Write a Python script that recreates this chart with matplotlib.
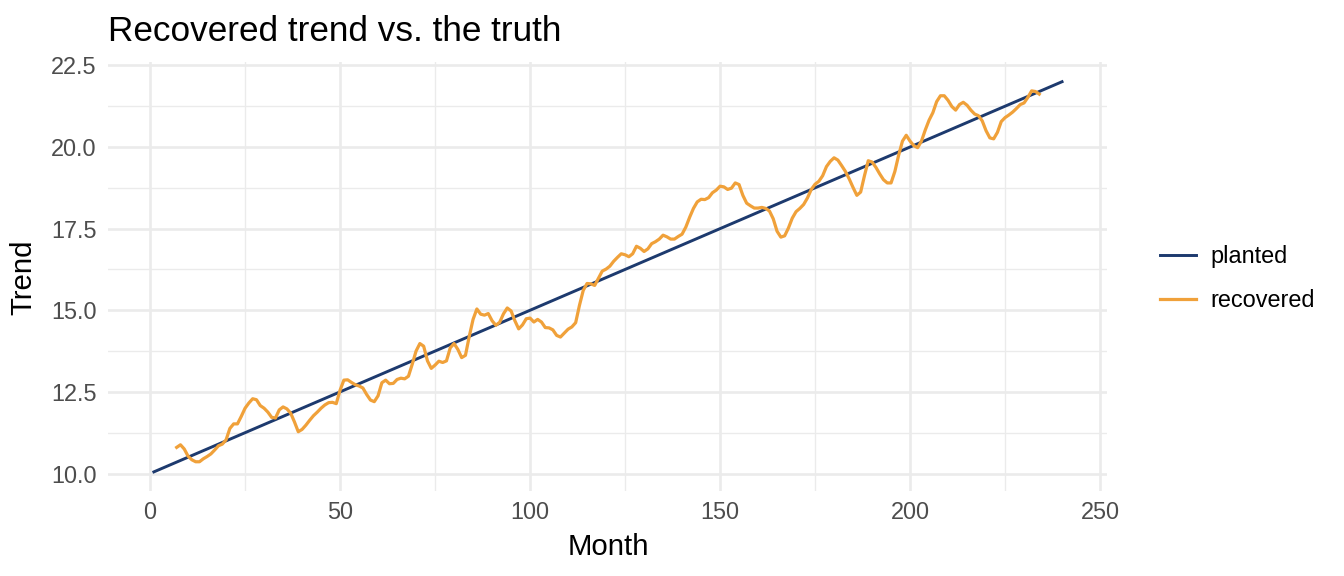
import matplotlib
matplotlib.use("Agg")
from matplotlib import pyplot as plt
from matplotlib.ticker import MultipleLocator

plt.rcParams['font.family'] = ['Liberation Sans', 'DejaVu Sans']

# planted trend: straight line, end points only
planted_month = [1, 240]
planted_trend = [10.05, 22.0]

# recovered trend (centred moving average), months 7..234
recovered_month = list(range(7, 235))
recovered_trend = [
    10.80, 10.88, 10.75, 10.53, 10.42, 10.36, 10.36, 10.45, 10.52, 10.60,
    10.72, 10.85, 10.90, 11.03, 11.38, 11.52, 11.52, 11.75, 12.00, 12.16,
    12.29, 12.26, 12.08, 12.00, 11.88, 11.72, 11.70, 11.95, 12.04, 11.98,
    11.85, 11.58, 11.28, 11.35, 11.48, 11.63, 11.77, 11.88, 12.00, 12.10,
    12.17, 12.18, 12.14, 12.55, 12.86, 12.87, 12.79, 12.72, 12.68, 12.62,
    12.42, 12.25, 12.20, 12.38, 12.78, 12.86, 12.75, 12.76, 12.88, 12.92,
    12.90, 12.98, 13.35, 13.75, 13.98, 13.90, 13.45, 13.22, 13.32, 13.44,
    13.40, 13.45, 13.85, 13.98, 13.80, 13.55, 13.62, 14.20, 14.72, 15.04,
    14.88, 14.85, 14.90, 14.68, 14.54, 14.63, 14.89, 15.07, 14.98, 14.68,
    14.43, 14.55, 14.74, 14.76, 14.64, 14.72, 14.64, 14.47, 14.46, 14.40,
    14.23, 14.18, 14.30, 14.42, 14.49, 14.62, 15.15, 15.61, 15.82, 15.81,
    15.76, 15.98, 16.20, 16.26, 16.35, 16.50, 16.62, 16.73, 16.70, 16.64,
    16.73, 16.96, 16.90, 16.80, 16.88, 17.04, 17.10, 17.18, 17.30, 17.25,
    17.18, 17.18, 17.26, 17.33, 17.55, 17.85, 18.12, 18.32, 18.40, 18.39,
    18.45, 18.60, 18.68, 18.80, 18.78, 18.70, 18.74, 18.90, 18.85, 18.52,
    18.28, 18.20, 18.13, 18.13, 18.15, 18.12, 18.04, 17.80, 17.42, 17.24,
    17.28, 17.52, 17.82, 18.02, 18.12, 18.24, 18.44, 18.70, 18.86, 18.95,
    19.12, 19.40, 19.56, 19.67, 19.60, 19.43, 19.25, 19.02, 18.76, 18.52,
    18.62, 19.12, 19.58, 19.54, 19.38, 19.18, 19.00, 18.90, 18.90, 19.25,
    19.75, 20.18, 20.36, 20.18, 20.04, 19.98, 20.18, 20.52, 20.82, 21.05,
    21.39, 21.57, 21.57, 21.43, 21.24, 21.13, 21.30, 21.37, 21.28, 21.13,
    21.01, 20.96, 20.80, 20.50, 20.28, 20.25, 20.45, 20.78, 20.90, 20.98,
    21.07, 21.18, 21.30, 21.35, 21.52, 21.72, 21.70, 21.62,
]

fig = plt.figure(figsize=(7, 3), dpi=192)
ax = fig.add_axes([0.0807, 0.1469, 0.824 - 0.0807, 0.892 - 0.1469])

ax.plot(planted_month, planted_trend, color='#1d3a6e', linewidth=1.1, label='planted')
ax.plot(recovered_month, recovered_trend, color='#f0a13a', linewidth=1.2, label='recovered')

ax.set_xlim(-10.95, 251.95)
ax.set_ylim(9.4525, 22.5975)
ax.xaxis.set_major_locator(MultipleLocator(50))
ax.xaxis.set_minor_locator(MultipleLocator(25))
ax.yaxis.set_major_locator(MultipleLocator(2.5))
ax.yaxis.set_minor_locator(MultipleLocator(1.25))
ax.yaxis.set_major_formatter(matplotlib.ticker.FormatStrFormatter('%.1f'))

ax.grid(which='major', color='#ebebeb', linewidth=1.0)
ax.grid(which='minor', color='#ebebeb', linewidth=0.5)
ax.set_axisbelow(True)
for s in ax.spines.values():
    s.set_visible(False)
ax.tick_params(which='both', length=0)
ax.tick_params(axis='x', labelsize=8.8, labelcolor='#4d4d4d', pad=3.5)
ax.tick_params(axis='y', labelsize=8.8, labelcolor='#4d4d4d', pad=4.5)

ax.set_title('Recovered trend vs. the truth', loc='left', fontsize=13.2, pad=8)
ax.set_xlabel('Month', fontsize=11, labelpad=3.5)
ax.set_ylabel('Trend', fontsize=11, labelpad=5)

fig.legend(loc='center left', bbox_to_anchor=(0.854, 0.516), frameon=False,
           fontsize=8.8, handlelength=1.55, handletextpad=0.6, labelspacing=0.9,
           borderpad=0)

fig.savefig('out.png', dpi=192)
